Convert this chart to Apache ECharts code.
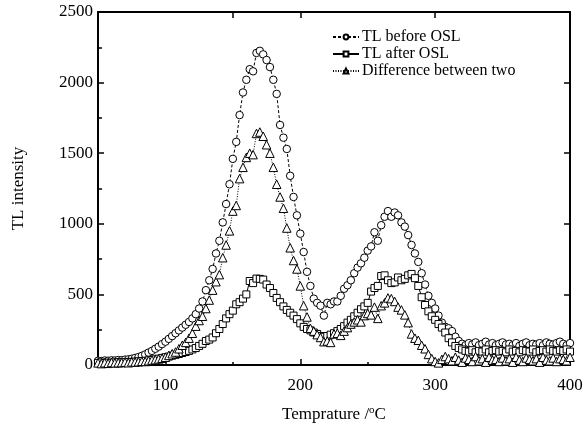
<!DOCTYPE html>
<html>
<head>
<meta charset="utf-8">
<script src="https://cdn.jsdelivr.net/npm/echarts@6/dist/echarts.min.js"></script>
<style>
  html, body { margin: 0; padding: 0; background: #fff; }
  #chart { width: 587px; height: 430px; }
</style>
</head>
<body>
<div id="chart"></div>
<script>
// Temperature readings (deg C), one per sample
const temps = [
  50, 52.5, 55, 57.5, 60, 62.5, 65, 67.5, 70, 72.5, 75, 77.5, 80, 82.5, 85, 87.5, 90, 92.5, 95, 97.5,
  100, 102.5, 105, 107.5, 110, 112.5, 115, 117.5, 120, 122.5, 125, 127.5, 130, 132.5, 135, 137.5, 140, 142.5, 145, 147.5,
  150, 152.5, 155, 157.5, 160, 162.5, 165, 167.5, 170, 172.5, 175, 177.5, 180, 182.5, 185, 187.5, 190, 192.5, 195, 197.5,
  200, 202.5, 205, 207.5, 210, 212.5, 215, 217.5, 220, 222.5, 225, 227.5, 230, 232.5, 235, 237.5, 240, 242.5, 245, 247.5,
  250, 252.5, 255, 257.5, 260, 262.5, 265, 267.5, 270, 272.5, 275, 277.5, 280, 282.5, 285, 287.5, 290, 292.5, 295, 297.5,
  300, 302.5, 305, 307.5, 310, 312.5, 315, 317.5, 320, 322.5, 325, 327.5, 330, 332.5, 335, 337.5, 340, 342.5, 345, 347.5,
  350, 352.5, 355, 357.5, 360, 362.5, 365, 367.5, 370, 372.5, 375, 377.5, 380, 382.5, 385, 387.5, 390, 392.5, 395, 397.5, 400
];

const tlBefore = [
  30, 28, 32, 30, 33, 32, 35, 34, 38, 40, 44, 50, 56, 65, 75, 88, 100, 115, 130, 148,
  165, 185, 205, 225, 245, 265, 285, 305, 330, 360, 400, 450, 530, 600, 680, 790, 880, 1010, 1140, 1280,
  1460, 1580, 1770, 1930, 2020, 2095, 2080, 2210, 2225, 2200, 2160, 2110, 2020, 1920, 1700, 1610, 1530, 1340, 1190, 1060,
  930, 800, 660, 560, 470, 440, 420, 350, 440, 430, 450, 450, 490, 540, 565, 600, 650, 690, 720, 760,
  810, 840, 940, 880, 990, 1050, 1090, 1050, 1080, 1060, 1010, 980, 920, 850, 790, 730, 650, 570, 490, 440,
  400, 350, 300, 270, 260, 240, 200, 170, 150, 140, 155, 145, 160, 140, 150, 165, 145, 155, 140, 150,
  160, 145, 150, 140, 155, 135, 150, 160, 140, 150, 145, 155, 140, 160, 150, 145, 155, 165, 150, 140, 155
];

const tlAfter = [
  15, 18, 14, 17, 16, 18, 20, 18, 20, 22, 22, 24, 26, 28, 30, 33, 36, 40, 45, 50,
  55, 60, 66, 72, 78, 85, 92, 100, 110, 120, 135, 150, 170, 180, 195, 225, 255, 290, 330, 360,
  385, 430, 445, 470, 500, 595, 580, 612, 610, 605, 570, 545, 510, 475, 445, 415, 390, 370, 350, 325,
  295, 270, 255, 245, 230, 220, 205, 200, 205, 215, 225, 240, 255, 275, 300, 320, 345, 370, 395, 415,
  440, 520, 545, 560, 630, 635, 600, 580, 585, 620, 600, 610, 635, 645, 615, 560, 480, 425, 380, 345,
  320, 290, 265, 230, 190, 160, 135, 120, 110, 100, 95, 105, 90, 100, 95, 110, 90, 100, 105, 95,
  100, 90, 110, 95, 100, 90, 105, 100, 95, 110, 90, 100, 105, 95, 110, 100, 95, 105, 100, 110, 95
];

const tlDiff = [
  15, 10, 16, 12, 18, 15, 16, 17, 20, 16, 22, 21, 23, 26, 25, 30, 35, 38, 43, 48,
  55, 68, 80, 92, 115, 140, 160, 190, 225, 275, 315, 345, 400, 460, 530, 590, 640, 760, 850, 950,
  1090, 1130, 1320, 1400, 1470, 1500, 1490, 1640, 1650, 1620, 1560, 1500, 1400, 1280, 1190, 1110, 970, 830, 740, 680,
  560, 420, 340, 260, 240, 215, 195, 165, 170, 160, 220, 225, 210, 240, 265, 290, 305, 320, 305, 350,
  365, 355, 410, 330, 420, 440, 475, 470, 450, 410, 390, 355, 300, 220, 190, 175, 140, 115, 75, 45,
  25, 15, 40, 60, 45, 30, 55, 35, 20, 50, 40, 25, 60, 30, 45, 20, 55, 35, 40, 25,
  50, 30, 45, 20, 55, 35, 25, 50, 40, 30, 45, 20, 55, 35, 30, 50, 25, 45, 40, 30, 55
];

const xMajorTicks = [100, 200, 300];
const xMinorTicks = [150, 250, 350];
const xTickLabels = [100, 200, 300, 400];

const FONT = "'Liberation Serif', 'Times New Roman', serif";

function pairs(ys) {
  return temps.map((t, i) => [t, ys[i]]);
}

// white-filled marker series + a tiny centre-dot series drawn right after it
function markerSeries(name, ys, symbol, size, lineStyle) {
  return [
    {
      name: name,
      type: 'line',
      data: pairs(ys),
      symbol: symbol,
      symbolSize: size,
      showAllSymbol: true,
      itemStyle: { color: '#fff', borderColor: '#000', borderWidth: 1 },
      lineStyle: Object.assign({ color: '#000', width: 1 }, lineStyle),
      emphasis: { disabled: true },
      animation: false
    },
    {
      name: name + ' dot',
      type: 'scatter',
      data: pairs(ys),
      symbol: 'circle',
      symbolSize: 1.6,
      itemStyle: { color: '#333' },
      silent: true,
      animation: false
    }
  ];
}

const axisLine = { show: true, lineStyle: { color: '#000', width: 2 } };

const option = {
  backgroundColor: '#fff',
  textStyle: { fontFamily: FONT },
  grid: { left: 98, right: 17, top: 12, bottom: 65 },
  legend: {
    orient: 'vertical',
    left: 327,
    top: 24,
    itemWidth: 26,
    itemHeight: 6,
    itemGap: 1,
    selectedMode: false,
    data: ['TL before OSL', 'TL after OSL', 'Difference between two'],
    textStyle: { fontFamily: FONT, fontSize: 16, color: '#000', padding: [0, 0, 0, -2] }
  },
  xAxis: [
    {
      type: 'value', min: 50, max: 400, position: 'bottom',
      axisLine: axisLine,
      axisTick: { show: true, inside: true, length: 6, customValues: xMajorTicks, lineStyle: { color: '#000', width: 1.5 } },
      axisLabel: { customValues: xTickLabels, color: '#000', fontSize: 17, fontFamily: FONT, margin: 12 },
      splitLine: { show: false },
      name: 'Temprature /{sup|o}C',
      nameLocation: 'middle',
      nameGap: 40,
      nameTextStyle: {
        color: '#000', fontSize: 17, fontFamily: FONT,
        rich: { sup: { fontSize: 11, fontFamily: FONT, color: '#000', padding: [0, 0, 8, 0] } }
      }
    },
    {
      type: 'value', min: 50, max: 400, position: 'bottom',
      axisLine: { show: false },
      axisTick: { show: true, inside: true, length: 3, customValues: xMinorTicks, lineStyle: { color: '#000', width: 1.5 } },
      axisLabel: { show: false },
      splitLine: { show: false }
    },
    {
      type: 'value', min: 50, max: 400, position: 'top',
      axisLine: axisLine,
      axisTick: { show: true, inside: true, length: 6, customValues: [150, 200, 300], lineStyle: { color: '#000', width: 1.5 } },
      axisLabel: { show: false },
      splitLine: { show: false }
    }
  ],
  yAxis: [
    {
      type: 'value', min: 0, max: 2500, interval: 500, position: 'left',
      axisLine: axisLine,
      axisTick: { show: true, inside: true, length: 6, lineStyle: { color: '#000', width: 1.5 } },
      minorTick: { show: true, splitNumber: 2, length: 4, lineStyle: { color: '#000', width: 1.5 } },
      axisLabel: { color: '#000', fontSize: 17, fontFamily: FONT, margin: 5, formatter: (v) => String(v) },
      splitLine: { show: false },
      name: 'TL intensity',
      nameLocation: 'middle',
      nameGap: 71,
      nameTextStyle: { color: '#000', fontSize: 17, fontFamily: FONT }
    },
    {
      type: 'value', min: 0, max: 2500, interval: 500, position: 'right',
      axisLine: axisLine,
      axisTick: { show: true, inside: true, length: 6, lineStyle: { color: '#000', width: 1.5 } },
      axisLabel: { show: false },
      splitLine: { show: false }
    }
  ],
  series: [].concat(
    markerSeries('TL before OSL', tlBefore, 'circle', 7.5, { type: [3, 2] }),
    markerSeries('TL after OSL', tlAfter, 'rect', 7, { type: 'solid' }),
    markerSeries('Difference between two', tlDiff, 'triangle', 8.5, { type: [1, 1.5] })
  )
};

const chart = echarts.init(document.getElementById('chart'), null, { renderer: 'canvas' });
chart.setOption(option);
</script>
</body>
</html>
